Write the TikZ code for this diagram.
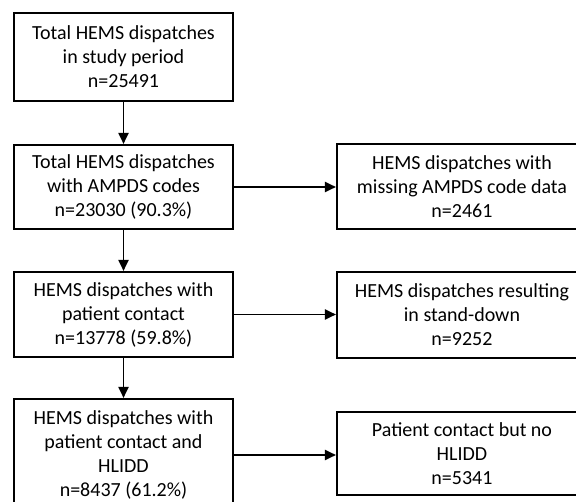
\documentclass[tikz,border=0pt]{standalone}
\usepackage{fontspec}
\setmainfont{Carlito}
\usetikzlibrary{arrows.meta}
\begin{document}
\begin{tikzpicture}[x=1pt,y=-1pt,
  box/.style={draw=black,line width=2.1pt,fill=white,align=center,inner sep=0pt,
    font=\fontsize{20}{24}\selectfont,text=black},
  lbox/.style={box,minimum width=219pt},
  rbox/.style={box,minimum width=250pt},
  conn/.style={line width=1.9pt,-{Triangle[length=11pt,width=10pt]}}]
\useasboundingbox[fill=white] (0,0) rectangle (576,502);
\begin{scope}
\clip (0,0) rectangle (576,502);
\node[lbox,minimum height=88pt] (b1) at (123.5,57) {Total HEMS dispatches\\in study period\\n=25491};
\node[lbox,minimum height=84pt] (b2) at (123.5,187) {Total HEMS dispatches\\with AMPDS codes\\n=23030 (90.3\%)};
\node[lbox,minimum height=85pt] (b3) at (123.5,314.5) {HEMS dispatches with\\patient contact\\n=13778 (59.8\%)};
\node[lbox,minimum height=112pt] (b4) at (123.5,455) {HEMS dispatches with\\patient contact and\\HLIDD\\n=8437 (61.2\%)};
\node[rbox,minimum height=85pt] (r1) at (462,186.5) {HEMS dispatches with\\missing AMPDS code data\\n=2461};
\node[rbox,minimum height=86pt] (r2) at (462,315) {HEMS dispatches resulting\\in stand-down\\n=9252};
\node[rbox,minimum height=83pt] (r3) at (462,453.5) {Patient contact but no\\HLIDD\\n=5341};
\draw[conn] (b1) -- (b2);
\draw[conn] (b2) -- (b3);
\draw[conn] (b3) -- (b4);
\draw[conn] (b2.east) -- (b2.east -| r1.west);
\draw[conn] (b3.east) -- (b3.east -| r2.west);
\draw[conn] (b4.east) -- (b4.east -| r3.west);
\end{scope}
\end{tikzpicture}
\end{document}
